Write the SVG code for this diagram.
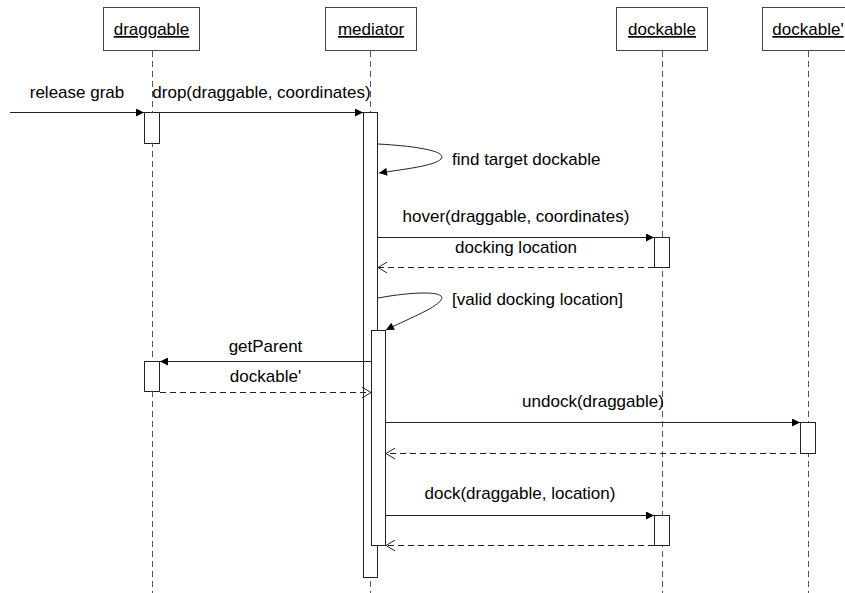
<svg xmlns="http://www.w3.org/2000/svg" width="845" height="593" viewBox="0 0 845 593">
  <style>
    text { font-family: "Liberation Sans", Arial, sans-serif; font-size: 17px; fill: #000; }
    .head { fill: #fff; stroke: #444; stroke-width: 1; }
    .name { text-anchor: middle; text-decoration: underline; }
    .life { stroke: #555; stroke-width: 1; stroke-dasharray: 6 4; fill: none; }
    .act { fill: #fff; stroke: #222; stroke-width: 1; }
    .msg { stroke: #222; stroke-width: 1; fill: none; }
    .ret { stroke: #222; stroke-width: 1; fill: none; stroke-dasharray: 6 4; }
    .lbl { text-anchor: middle; }
  </style>
  <defs>
    <marker id="filled" viewBox="0 0 10 10" refX="10" refY="5" markerWidth="9" markerHeight="8" markerUnits="userSpaceOnUse" orient="auto">
      <path d="M0,0 L10,5 L0,10 Z" fill="#000"/>
    </marker>
    <marker id="open" viewBox="0 0 10 12" refX="10" refY="6" markerWidth="9" markerHeight="12" markerUnits="userSpaceOnUse" orient="auto">
      <path d="M0,0 L10,6 L0,12" fill="none" stroke="#222" stroke-width="1.1"/>
    </marker>
  </defs>

  <!-- lifelines -->
  <g id="lifelines">
    <line class="life" x1="152.5" y1="51" x2="152.5" y2="593"/>
    <line class="life" x1="370.5" y1="51" x2="370.5" y2="593"/>
    <line class="life" x1="662.5" y1="51" x2="662.5" y2="593"/>
    <line class="life" x1="808.5" y1="51" x2="808.5" y2="593"/>
  </g>

  <!-- participants -->
  <g id="draggable">
    <rect class="head" x="103.5" y="7.5" width="96" height="43"/>
    <text class="name" x="151.5" y="35">draggable</text>
    <rect class="act" x="144.5" y="112.5" width="15" height="31"/>
    <rect class="act" x="144.5" y="361.5" width="15" height="30"/>
  </g>
  <g id="mediator">
    <rect class="head" x="325.5" y="7.5" width="91" height="43"/>
    <text class="name" x="371" y="35">mediator</text>
    <rect class="act" x="363.5" y="112.5" width="14" height="465"/>
    <rect class="act" x="371.5" y="330.5" width="14" height="215"/>
  </g>
  <g id="dockable">
    <rect class="head" x="616.5" y="7.5" width="91" height="43"/>
    <text class="name" x="662" y="35">dockable</text>
    <rect class="act" x="654.5" y="237.5" width="15" height="30"/>
    <rect class="act" x="654.5" y="515.5" width="15" height="30"/>
  </g>
  <g id="dockable-prime">
    <rect class="head" x="762.5" y="7.5" width="92" height="43"/>
    <text class="name" x="808" y="35">dockable'</text>
    <rect class="act" x="800.5" y="422.5" width="15" height="31"/>
  </g>

  <!-- messages -->
  <g id="connectors">
    <line class="msg" x1="10" y1="112.5" x2="144" y2="112.5" marker-end="url(#filled)"/>
    <line class="msg" x1="160" y1="112.5" x2="363" y2="112.5" marker-end="url(#filled)"/>
    <path class="msg" d="M378,144 C415,146 448,151 441,159 C434,166 405,169 379,173" marker-end="url(#filled)"/>
    <line class="msg" x1="378" y1="237.5" x2="654" y2="237.5" marker-end="url(#filled)"/>
    <line class="ret" x1="654" y1="267.5" x2="378" y2="267.5" marker-end="url(#open)"/>
    <path class="msg" d="M378,298 C410,292 448,290 441,300 C435,309 405,320 386,330" marker-end="url(#filled)"/>
    <line class="msg" x1="371" y1="361.5" x2="160" y2="361.5" marker-end="url(#filled)"/>
    <line class="ret" x1="160" y1="392.5" x2="371" y2="392.5" marker-end="url(#open)"/>
    <line class="msg" x1="386" y1="422.5" x2="800" y2="422.5" marker-end="url(#filled)"/>
    <line class="ret" x1="816" y1="453.5" x2="386" y2="453.5" marker-end="url(#open)"/>
    <line class="msg" x1="386" y1="515.5" x2="654" y2="515.5" marker-end="url(#filled)"/>
    <line class="ret" x1="654" y1="545.5" x2="386" y2="545.5" marker-end="url(#open)"/>
  </g>

  <!-- message labels -->
  <g id="labels">
    <text class="lbl" x="77" y="98">release grab</text>
    <text class="lbl" x="261.5" y="98">drop(draggable, coordinates)</text>
    <text x="452" y="165">find target dockable</text>
    <text class="lbl" x="516" y="222">hover(draggable, coordinates)</text>
    <text class="lbl" x="516" y="253">docking location</text>
    <text x="452" y="305">[valid docking location]</text>
    <text class="lbl" x="265.5" y="352">getParent</text>
    <text class="lbl" x="265.5" y="382">dockable'</text>
    <text class="lbl" x="593" y="407">undock(draggable)</text>
    <text class="lbl" x="520" y="499">dock(draggable, location)</text>
  </g>
</svg>
